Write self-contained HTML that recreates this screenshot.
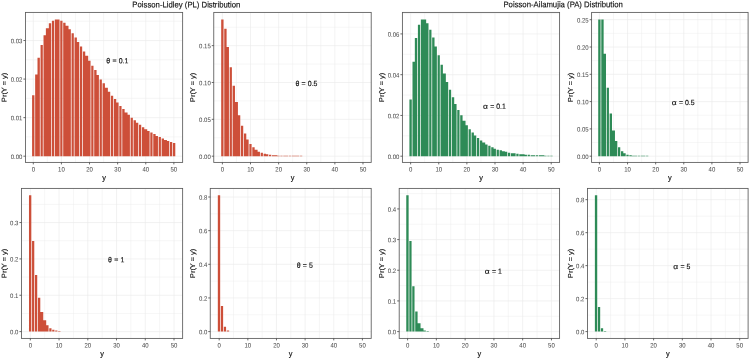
<!DOCTYPE html>
<html lang="en"><head><meta charset="utf-8"><title>Poisson-Lidley and Poisson-Ailamujia Distributions</title>
<style>html,body{margin:0;padding:0;background:#fff;}body{width:750px;height:359px;overflow:hidden;}svg{display:block;filter:blur(0.4px);}</style>
</head><body>
<svg width="750" height="359" viewBox="0 0 750 359" font-family="'Liberation Sans', Arial, sans-serif">
<rect width="750" height="359" fill="#fff"/>
<text transform="translate(186.30 7.45) rotate(0.1) scale(1 1.08)" font-size="7.75" text-anchor="middle" fill="#111" stroke="#111" stroke-width="0.14">Poisson-Lidley (PL) Distribution</text>
<text transform="translate(563.10 7.25) rotate(0.1) scale(1 1.08)" font-size="7.75" text-anchor="middle" fill="#111" stroke="#111" stroke-width="0.14">Poisson-Ailamujia (PA) Distribution</text>
<g>
<line x1="25.42" x2="182.64" y1="136.92" y2="136.92" stroke="#ebebeb" stroke-width="0.45"/>
<line x1="25.42" x2="182.64" y1="98.36" y2="98.36" stroke="#ebebeb" stroke-width="0.45"/>
<line x1="25.42" x2="182.64" y1="59.80" y2="59.80" stroke="#ebebeb" stroke-width="0.45"/>
<line x1="25.42" x2="182.64" y1="21.24" y2="21.24" stroke="#ebebeb" stroke-width="0.45"/>
<line y1="12.40" y2="162.40" x1="47.36" x2="47.36" stroke="#ebebeb" stroke-width="0.45"/>
<line y1="12.40" y2="162.40" x1="75.47" x2="75.47" stroke="#ebebeb" stroke-width="0.45"/>
<line y1="12.40" y2="162.40" x1="103.58" x2="103.58" stroke="#ebebeb" stroke-width="0.45"/>
<line y1="12.40" y2="162.40" x1="131.70" x2="131.70" stroke="#ebebeb" stroke-width="0.45"/>
<line y1="12.40" y2="162.40" x1="159.81" x2="159.81" stroke="#ebebeb" stroke-width="0.45"/>
<line x1="25.42" x2="182.64" y1="156.20" y2="156.20" stroke="#ebebeb" stroke-width="0.65"/>
<line x1="25.42" x2="182.64" y1="117.64" y2="117.64" stroke="#ebebeb" stroke-width="0.65"/>
<line x1="25.42" x2="182.64" y1="79.08" y2="79.08" stroke="#ebebeb" stroke-width="0.65"/>
<line x1="25.42" x2="182.64" y1="40.52" y2="40.52" stroke="#ebebeb" stroke-width="0.65"/>
<line y1="12.40" y2="162.40" x1="33.30" x2="33.30" stroke="#ebebeb" stroke-width="0.65"/>
<line y1="12.40" y2="162.40" x1="61.41" x2="61.41" stroke="#ebebeb" stroke-width="0.65"/>
<line y1="12.40" y2="162.40" x1="89.53" x2="89.53" stroke="#ebebeb" stroke-width="0.65"/>
<line y1="12.40" y2="162.40" x1="117.64" x2="117.64" stroke="#ebebeb" stroke-width="0.65"/>
<line y1="12.40" y2="162.40" x1="145.76" x2="145.76" stroke="#ebebeb" stroke-width="0.65"/>
<line y1="12.40" y2="162.40" x1="173.87" x2="173.87" stroke="#ebebeb" stroke-width="0.65"/>
<path d="M32.09 156.20V95.18H34.44V156.20ZM35.15 156.20V74.51H37.50V156.20ZM37.50 156.20V57.77H39.85V156.20ZM40.56 156.20V44.98H42.80V156.20ZM43.52 156.20V35.14H45.87V156.20ZM45.87 156.20V28.25H48.82V156.20ZM48.82 156.20V23.33H51.17V156.20ZM51.88 156.20V20.87H54.12V156.20ZM54.83 156.20V19.39H57.19V156.20ZM57.19 156.20V19.39H59.54V156.20ZM60.25 156.20V20.87H62.49V156.20ZM63.20 156.20V22.83H65.55V156.20ZM65.55 156.20V25.79H68.50V156.20ZM68.50 156.20V29.23H70.85V156.20ZM71.57 156.20V33.17H73.81V156.20ZM74.52 156.20V37.60H76.87V156.20ZM76.87 156.20V42.03H79.22V156.20ZM79.93 156.20V46.46H82.17V156.20ZM82.89 156.20V51.38H85.24V156.20ZM85.24 156.20V55.81H88.19V156.20ZM88.19 156.20V60.73H90.54V156.20ZM91.25 156.20V65.65H93.49V156.20ZM94.20 156.20V70.08H96.56V156.20ZM96.56 156.20V75.00H98.91V156.20ZM99.62 156.20V79.43H101.86V156.20ZM102.57 156.20V83.37H104.92V156.20ZM104.92 156.20V87.79H107.87V156.20ZM107.87 156.20V91.73H110.22V156.20ZM110.94 156.20V95.67H113.18V156.20ZM113.89 156.20V99.11H116.24V156.20ZM116.24 156.20V102.56H118.59V156.20ZM119.30 156.20V106.00H121.54V156.20ZM122.26 156.20V108.96H124.61V156.20ZM124.61 156.20V112.40H127.56V156.20ZM127.56 156.20V114.86H129.91V156.20ZM130.62 156.20V117.81H132.86V156.20ZM133.57 156.20V120.27H135.93V156.20ZM135.93 156.20V122.74H138.28V156.20ZM138.99 156.20V124.70H141.23V156.20ZM141.94 156.20V127.16H144.29V156.20ZM144.29 156.20V129.13H147.24V156.20ZM147.24 156.20V131.10H149.59V156.20ZM150.31 156.20V132.58H152.55V156.20ZM153.26 156.20V134.05H155.61V156.20ZM155.61 156.20V136.02H157.96V156.20ZM158.67 156.20V137.01H160.91V156.20ZM161.63 156.20V138.48H163.98V156.20ZM163.98 156.20V139.96H166.93V156.20ZM166.93 156.20V140.94H169.28V156.20ZM169.99 156.20V141.93H172.23V156.20ZM172.94 156.20V142.91H175.30V156.20Z" fill="#CD4F39"/>
<rect x="25.42" y="12.40" width="157.22" height="150.00" fill="none" stroke="#5a5a5a" stroke-width="0.85"/>
<line x1="23.42" x2="25.42" y1="156.20" y2="156.20" stroke="#444" stroke-width="0.8"/>
<text transform="translate(22.42 158.92) rotate(0.1) scale(1 1.08)" font-size="6.0" text-anchor="end" fill="#4d4d4d" stroke="#4d4d4d" stroke-width="0.03">0.00</text>
<line x1="23.42" x2="25.42" y1="117.64" y2="117.64" stroke="#444" stroke-width="0.8"/>
<text transform="translate(22.42 120.36) rotate(0.1) scale(1 1.08)" font-size="6.0" text-anchor="end" fill="#4d4d4d" stroke="#4d4d4d" stroke-width="0.03">0.01</text>
<line x1="23.42" x2="25.42" y1="79.08" y2="79.08" stroke="#444" stroke-width="0.8"/>
<text transform="translate(22.42 81.80) rotate(0.1) scale(1 1.08)" font-size="6.0" text-anchor="end" fill="#4d4d4d" stroke="#4d4d4d" stroke-width="0.03">0.02</text>
<line x1="23.42" x2="25.42" y1="40.52" y2="40.52" stroke="#444" stroke-width="0.8"/>
<text transform="translate(22.42 43.24) rotate(0.1) scale(1 1.08)" font-size="6.0" text-anchor="end" fill="#4d4d4d" stroke="#4d4d4d" stroke-width="0.03">0.03</text>
<line y1="162.40" y2="164.40" x1="33.30" x2="33.30" stroke="#444" stroke-width="0.8"/>
<text transform="translate(33.30 171.42) rotate(0.1) scale(1 1.08)" font-size="6.0" text-anchor="middle" fill="#4d4d4d" stroke="#4d4d4d" stroke-width="0.03">0</text>
<line y1="162.40" y2="164.40" x1="61.41" x2="61.41" stroke="#444" stroke-width="0.8"/>
<text transform="translate(61.41 171.42) rotate(0.1) scale(1 1.08)" font-size="6.0" text-anchor="middle" fill="#4d4d4d" stroke="#4d4d4d" stroke-width="0.03">10</text>
<line y1="162.40" y2="164.40" x1="89.53" x2="89.53" stroke="#444" stroke-width="0.8"/>
<text transform="translate(89.53 171.42) rotate(0.1) scale(1 1.08)" font-size="6.0" text-anchor="middle" fill="#4d4d4d" stroke="#4d4d4d" stroke-width="0.03">20</text>
<line y1="162.40" y2="164.40" x1="117.64" x2="117.64" stroke="#444" stroke-width="0.8"/>
<text transform="translate(117.64 171.42) rotate(0.1) scale(1 1.08)" font-size="6.0" text-anchor="middle" fill="#4d4d4d" stroke="#4d4d4d" stroke-width="0.03">30</text>
<line y1="162.40" y2="164.40" x1="145.76" x2="145.76" stroke="#444" stroke-width="0.8"/>
<text transform="translate(145.76 171.42) rotate(0.1) scale(1 1.08)" font-size="6.0" text-anchor="middle" fill="#4d4d4d" stroke="#4d4d4d" stroke-width="0.03">40</text>
<line y1="162.40" y2="164.40" x1="173.87" x2="173.87" stroke="#444" stroke-width="0.8"/>
<text transform="translate(173.87 171.42) rotate(0.1) scale(1 1.08)" font-size="6.0" text-anchor="middle" fill="#4d4d4d" stroke="#4d4d4d" stroke-width="0.03">50</text>
<text transform="translate(104.03 180.30) rotate(0.1) scale(1 1.08)" font-size="7.4" text-anchor="middle" fill="#111" stroke="#111" stroke-width="0.14">y</text>
<text transform="translate(6.60 87.40) rotate(-89.9) scale(1 0.93)" font-size="7.4" text-anchor="middle" fill="#111" stroke="#111" stroke-width="0.14">Pr(Y = y)</text>
<text word-spacing="0.3" transform="translate(117.34 63.24) rotate(0.1) scale(1 1.06)" font-size="6.95" text-anchor="middle" fill="#111" stroke="#111" stroke-width="0.14">θ = 0.1</text>
</g>
<g>
<line x1="213.76" x2="371.20" y1="137.77" y2="137.77" stroke="#ebebeb" stroke-width="0.45"/>
<line x1="213.76" x2="371.20" y1="100.92" y2="100.92" stroke="#ebebeb" stroke-width="0.45"/>
<line x1="213.76" x2="371.20" y1="64.06" y2="64.06" stroke="#ebebeb" stroke-width="0.45"/>
<line x1="213.76" x2="371.20" y1="27.21" y2="27.21" stroke="#ebebeb" stroke-width="0.45"/>
<line y1="12.40" y2="162.40" x1="236.46" x2="236.46" stroke="#ebebeb" stroke-width="0.45"/>
<line y1="12.40" y2="162.40" x1="264.57" x2="264.57" stroke="#ebebeb" stroke-width="0.45"/>
<line y1="12.40" y2="162.40" x1="292.69" x2="292.69" stroke="#ebebeb" stroke-width="0.45"/>
<line y1="12.40" y2="162.40" x1="320.80" x2="320.80" stroke="#ebebeb" stroke-width="0.45"/>
<line y1="12.40" y2="162.40" x1="348.91" x2="348.91" stroke="#ebebeb" stroke-width="0.45"/>
<line x1="213.76" x2="371.20" y1="156.20" y2="156.20" stroke="#ebebeb" stroke-width="0.65"/>
<line x1="213.76" x2="371.20" y1="119.34" y2="119.34" stroke="#ebebeb" stroke-width="0.65"/>
<line x1="213.76" x2="371.20" y1="82.49" y2="82.49" stroke="#ebebeb" stroke-width="0.65"/>
<line x1="213.76" x2="371.20" y1="45.63" y2="45.63" stroke="#ebebeb" stroke-width="0.65"/>
<line y1="12.40" y2="162.40" x1="222.40" x2="222.40" stroke="#ebebeb" stroke-width="0.65"/>
<line y1="12.40" y2="162.40" x1="250.51" x2="250.51" stroke="#ebebeb" stroke-width="0.65"/>
<line y1="12.40" y2="162.40" x1="278.63" x2="278.63" stroke="#ebebeb" stroke-width="0.65"/>
<line y1="12.40" y2="162.40" x1="306.74" x2="306.74" stroke="#ebebeb" stroke-width="0.65"/>
<line y1="12.40" y2="162.40" x1="334.86" x2="334.86" stroke="#ebebeb" stroke-width="0.65"/>
<line y1="12.40" y2="162.40" x1="362.97" x2="362.97" stroke="#ebebeb" stroke-width="0.65"/>
<path d="M221.19 156.20V19.39H223.54V156.20ZM224.25 156.20V28.74H226.60V156.20ZM226.60 156.20V46.95H228.95V156.20ZM229.66 156.20V67.13H231.90V156.20ZM232.61 156.20V85.83H234.97V156.20ZM234.97 156.20V102.07H237.92V156.20ZM237.92 156.20V115.35H240.27V156.20ZM240.98 156.20V125.69H243.22V156.20ZM243.93 156.20V133.56H246.28V156.20ZM246.28 156.20V139.47H248.64V156.20ZM249.35 156.20V143.90H251.59V156.20ZM252.30 156.20V147.34H254.65V156.20ZM254.65 156.20V149.80H257.60V156.20ZM257.60 156.20V151.77H259.95V156.20ZM260.67 156.20V152.76H262.91V156.20ZM263.62 156.20V153.74H265.97V156.20ZM265.97 156.20V154.23H268.32V156.20ZM269.03 156.20V154.72H271.27V156.20ZM271.99 156.20V155.22H274.34V156.20ZM274.34 156.20V155.22H277.29V156.20ZM277.29 156.20V155.71H279.64V156.20ZM280.35 156.20V155.71H282.59V156.20ZM283.30 156.20V155.71H285.65V156.20ZM285.65 156.20V155.71H288.01V156.20ZM288.72 156.20V155.71H290.96V156.20ZM291.67 156.20V155.71H294.02V156.20ZM294.02 156.20V155.71H296.97V156.20ZM296.97 156.20V155.71H299.32V156.20ZM300.04 156.20V155.71H302.28V156.20Z" fill="#CD4F39"/>
<rect x="213.76" y="12.40" width="157.44" height="150.00" fill="none" stroke="#5a5a5a" stroke-width="0.85"/>
<line x1="211.76" x2="213.76" y1="156.20" y2="156.20" stroke="#444" stroke-width="0.8"/>
<text transform="translate(210.76 158.92) rotate(0.1) scale(1 1.08)" font-size="6.0" text-anchor="end" fill="#4d4d4d" stroke="#4d4d4d" stroke-width="0.03">0.00</text>
<line x1="211.76" x2="213.76" y1="119.34" y2="119.34" stroke="#444" stroke-width="0.8"/>
<text transform="translate(210.76 122.06) rotate(0.1) scale(1 1.08)" font-size="6.0" text-anchor="end" fill="#4d4d4d" stroke="#4d4d4d" stroke-width="0.03">0.05</text>
<line x1="211.76" x2="213.76" y1="82.49" y2="82.49" stroke="#444" stroke-width="0.8"/>
<text transform="translate(210.76 85.21) rotate(0.1) scale(1 1.08)" font-size="6.0" text-anchor="end" fill="#4d4d4d" stroke="#4d4d4d" stroke-width="0.03">0.10</text>
<line x1="211.76" x2="213.76" y1="45.63" y2="45.63" stroke="#444" stroke-width="0.8"/>
<text transform="translate(210.76 48.35) rotate(0.1) scale(1 1.08)" font-size="6.0" text-anchor="end" fill="#4d4d4d" stroke="#4d4d4d" stroke-width="0.03">0.15</text>
<line y1="162.40" y2="164.40" x1="222.40" x2="222.40" stroke="#444" stroke-width="0.8"/>
<text transform="translate(222.40 171.42) rotate(0.1) scale(1 1.08)" font-size="6.0" text-anchor="middle" fill="#4d4d4d" stroke="#4d4d4d" stroke-width="0.03">0</text>
<line y1="162.40" y2="164.40" x1="250.51" x2="250.51" stroke="#444" stroke-width="0.8"/>
<text transform="translate(250.51 171.42) rotate(0.1) scale(1 1.08)" font-size="6.0" text-anchor="middle" fill="#4d4d4d" stroke="#4d4d4d" stroke-width="0.03">10</text>
<line y1="162.40" y2="164.40" x1="278.63" x2="278.63" stroke="#444" stroke-width="0.8"/>
<text transform="translate(278.63 171.42) rotate(0.1) scale(1 1.08)" font-size="6.0" text-anchor="middle" fill="#4d4d4d" stroke="#4d4d4d" stroke-width="0.03">20</text>
<line y1="162.40" y2="164.40" x1="306.74" x2="306.74" stroke="#444" stroke-width="0.8"/>
<text transform="translate(306.74 171.42) rotate(0.1) scale(1 1.08)" font-size="6.0" text-anchor="middle" fill="#4d4d4d" stroke="#4d4d4d" stroke-width="0.03">30</text>
<line y1="162.40" y2="164.40" x1="334.86" x2="334.86" stroke="#444" stroke-width="0.8"/>
<text transform="translate(334.86 171.42) rotate(0.1) scale(1 1.08)" font-size="6.0" text-anchor="middle" fill="#4d4d4d" stroke="#4d4d4d" stroke-width="0.03">40</text>
<line y1="162.40" y2="164.40" x1="362.97" x2="362.97" stroke="#444" stroke-width="0.8"/>
<text transform="translate(362.97 171.42) rotate(0.1) scale(1 1.08)" font-size="6.0" text-anchor="middle" fill="#4d4d4d" stroke="#4d4d4d" stroke-width="0.03">50</text>
<text transform="translate(292.48 180.30) rotate(0.1) scale(1 1.08)" font-size="7.4" text-anchor="middle" fill="#111" stroke="#111" stroke-width="0.14">y</text>
<text transform="translate(195.10 87.40) rotate(-89.9) scale(1 0.93)" font-size="7.4" text-anchor="middle" fill="#111" stroke="#111" stroke-width="0.14">Pr(Y = y)</text>
<text word-spacing="0.3" transform="translate(306.44 85.93) rotate(0.1) scale(1 1.06)" font-size="6.95" text-anchor="middle" fill="#111" stroke="#111" stroke-width="0.14">θ = 0.5</text>
</g>
<g>
<line x1="402.40" x2="559.60" y1="135.82" y2="135.82" stroke="#ebebeb" stroke-width="0.45"/>
<line x1="402.40" x2="559.60" y1="95.06" y2="95.06" stroke="#ebebeb" stroke-width="0.45"/>
<line x1="402.40" x2="559.60" y1="54.30" y2="54.30" stroke="#ebebeb" stroke-width="0.45"/>
<line x1="402.40" x2="559.60" y1="13.54" y2="13.54" stroke="#ebebeb" stroke-width="0.45"/>
<line y1="12.40" y2="162.40" x1="424.70" x2="424.70" stroke="#ebebeb" stroke-width="0.45"/>
<line y1="12.40" y2="162.40" x1="452.81" x2="452.81" stroke="#ebebeb" stroke-width="0.45"/>
<line y1="12.40" y2="162.40" x1="480.93" x2="480.93" stroke="#ebebeb" stroke-width="0.45"/>
<line y1="12.40" y2="162.40" x1="509.04" x2="509.04" stroke="#ebebeb" stroke-width="0.45"/>
<line y1="12.40" y2="162.40" x1="537.15" x2="537.15" stroke="#ebebeb" stroke-width="0.45"/>
<line x1="402.40" x2="559.60" y1="156.20" y2="156.20" stroke="#ebebeb" stroke-width="0.65"/>
<line x1="402.40" x2="559.60" y1="115.44" y2="115.44" stroke="#ebebeb" stroke-width="0.65"/>
<line x1="402.40" x2="559.60" y1="74.68" y2="74.68" stroke="#ebebeb" stroke-width="0.65"/>
<line x1="402.40" x2="559.60" y1="33.92" y2="33.92" stroke="#ebebeb" stroke-width="0.65"/>
<line y1="12.40" y2="162.40" x1="410.64" x2="410.64" stroke="#ebebeb" stroke-width="0.65"/>
<line y1="12.40" y2="162.40" x1="438.75" x2="438.75" stroke="#ebebeb" stroke-width="0.65"/>
<line y1="12.40" y2="162.40" x1="466.87" x2="466.87" stroke="#ebebeb" stroke-width="0.65"/>
<line y1="12.40" y2="162.40" x1="494.98" x2="494.98" stroke="#ebebeb" stroke-width="0.65"/>
<line y1="12.40" y2="162.40" x1="523.10" x2="523.10" stroke="#ebebeb" stroke-width="0.65"/>
<line y1="12.40" y2="162.40" x1="551.21" x2="551.21" stroke="#ebebeb" stroke-width="0.65"/>
<path d="M409.42 156.20V99.61H411.77V156.20ZM412.49 156.20V61.71H414.84V156.20ZM414.84 156.20V38.09H417.19V156.20ZM417.90 156.20V24.80H420.14V156.20ZM420.85 156.20V19.39H423.20V156.20ZM423.20 156.20V19.39H426.16V156.20ZM426.16 156.20V23.33H428.51V156.20ZM429.22 156.20V29.72H431.46V156.20ZM432.17 156.20V37.60H434.52V156.20ZM434.52 156.20V46.46H436.87V156.20ZM437.59 156.20V55.31H439.83V156.20ZM440.54 156.20V64.66H442.89V156.20ZM442.89 156.20V73.52H445.84V156.20ZM445.84 156.20V81.89H448.19V156.20ZM448.90 156.20V89.76H451.14V156.20ZM451.86 156.20V97.14H454.21V156.20ZM454.21 156.20V104.03H456.56V156.20ZM457.27 156.20V109.94H459.51V156.20ZM460.22 156.20V115.35H462.57V156.20ZM462.57 156.20V120.77H465.53V156.20ZM465.53 156.20V125.20H467.88V156.20ZM468.59 156.20V129.13H470.83V156.20ZM471.54 156.20V132.58H473.89V156.20ZM473.89 156.20V135.53H476.24V156.20ZM476.96 156.20V137.99H479.20V156.20ZM479.91 156.20V140.45H482.26V156.20ZM482.26 156.20V142.42H485.21V156.20ZM485.21 156.20V144.39H487.56V156.20ZM488.27 156.20V145.87H490.51V156.20ZM491.23 156.20V147.34H493.58V156.20ZM493.58 156.20V148.82H495.93V156.20ZM496.64 156.20V149.80H498.88V156.20ZM499.59 156.20V150.29H501.94V156.20ZM501.94 156.20V151.28H504.90V156.20ZM504.90 156.20V151.77H507.25V156.20ZM507.96 156.20V152.76H510.20V156.20ZM510.91 156.20V153.25H513.26V156.20ZM513.26 156.20V153.25H515.61V156.20ZM516.33 156.20V153.74H518.57V156.20ZM519.28 156.20V154.23H521.63V156.20ZM521.63 156.20V154.23H524.58V156.20ZM524.58 156.20V154.72H526.93V156.20ZM527.64 156.20V154.72H529.89V156.20ZM530.60 156.20V155.22H532.95V156.20ZM532.95 156.20V155.22H535.30V156.20ZM536.01 156.20V155.22H538.25V156.20ZM538.96 156.20V155.22H541.31V156.20ZM541.31 156.20V155.22H544.27V156.20ZM544.27 156.20V155.71H546.62V156.20ZM547.33 156.20V155.71H549.57V156.20ZM550.28 156.20V155.71H552.63V156.20Z" fill="#2E8B57"/>
<rect x="402.40" y="12.40" width="157.20" height="150.00" fill="none" stroke="#5a5a5a" stroke-width="0.85"/>
<line x1="400.40" x2="402.40" y1="156.20" y2="156.20" stroke="#444" stroke-width="0.8"/>
<text transform="translate(399.40 158.92) rotate(0.1) scale(1 1.08)" font-size="6.0" text-anchor="end" fill="#4d4d4d" stroke="#4d4d4d" stroke-width="0.03">0.00</text>
<line x1="400.40" x2="402.40" y1="115.44" y2="115.44" stroke="#444" stroke-width="0.8"/>
<text transform="translate(399.40 118.16) rotate(0.1) scale(1 1.08)" font-size="6.0" text-anchor="end" fill="#4d4d4d" stroke="#4d4d4d" stroke-width="0.03">0.02</text>
<line x1="400.40" x2="402.40" y1="74.68" y2="74.68" stroke="#444" stroke-width="0.8"/>
<text transform="translate(399.40 77.40) rotate(0.1) scale(1 1.08)" font-size="6.0" text-anchor="end" fill="#4d4d4d" stroke="#4d4d4d" stroke-width="0.03">0.04</text>
<line x1="400.40" x2="402.40" y1="33.92" y2="33.92" stroke="#444" stroke-width="0.8"/>
<text transform="translate(399.40 36.64) rotate(0.1) scale(1 1.08)" font-size="6.0" text-anchor="end" fill="#4d4d4d" stroke="#4d4d4d" stroke-width="0.03">0.06</text>
<line y1="162.40" y2="164.40" x1="410.64" x2="410.64" stroke="#444" stroke-width="0.8"/>
<text transform="translate(410.64 171.42) rotate(0.1) scale(1 1.08)" font-size="6.0" text-anchor="middle" fill="#4d4d4d" stroke="#4d4d4d" stroke-width="0.03">0</text>
<line y1="162.40" y2="164.40" x1="438.75" x2="438.75" stroke="#444" stroke-width="0.8"/>
<text transform="translate(438.75 171.42) rotate(0.1) scale(1 1.08)" font-size="6.0" text-anchor="middle" fill="#4d4d4d" stroke="#4d4d4d" stroke-width="0.03">10</text>
<line y1="162.40" y2="164.40" x1="466.87" x2="466.87" stroke="#444" stroke-width="0.8"/>
<text transform="translate(466.87 171.42) rotate(0.1) scale(1 1.08)" font-size="6.0" text-anchor="middle" fill="#4d4d4d" stroke="#4d4d4d" stroke-width="0.03">20</text>
<line y1="162.40" y2="164.40" x1="494.98" x2="494.98" stroke="#444" stroke-width="0.8"/>
<text transform="translate(494.98 171.42) rotate(0.1) scale(1 1.08)" font-size="6.0" text-anchor="middle" fill="#4d4d4d" stroke="#4d4d4d" stroke-width="0.03">30</text>
<line y1="162.40" y2="164.40" x1="523.10" x2="523.10" stroke="#444" stroke-width="0.8"/>
<text transform="translate(523.10 171.42) rotate(0.1) scale(1 1.08)" font-size="6.0" text-anchor="middle" fill="#4d4d4d" stroke="#4d4d4d" stroke-width="0.03">40</text>
<line y1="162.40" y2="164.40" x1="551.21" x2="551.21" stroke="#444" stroke-width="0.8"/>
<text transform="translate(551.21 171.42) rotate(0.1) scale(1 1.08)" font-size="6.0" text-anchor="middle" fill="#4d4d4d" stroke="#4d4d4d" stroke-width="0.03">50</text>
<text transform="translate(481.00 180.30) rotate(0.1) scale(1 1.08)" font-size="7.4" text-anchor="middle" fill="#111" stroke="#111" stroke-width="0.14">y</text>
<text transform="translate(384.10 87.40) rotate(-89.9) scale(1 0.93)" font-size="7.4" text-anchor="middle" fill="#111" stroke="#111" stroke-width="0.14">Pr(Y = y)</text>
<text transform="translate(482.94 108.69) rotate(0.1) scale(1.22 1.04)" font-size="6.95" fill="#111" stroke="#111" stroke-width="0.12">α</text>
<text transform="translate(490.17 108.69) rotate(0.1) scale(1 1.06)" font-size="6.95" text-anchor="start" fill="#111" stroke="#111" stroke-width="0.14">= 0.1</text>
</g>
<g>
<line x1="591.60" x2="748.10" y1="142.55" y2="142.55" stroke="#ebebeb" stroke-width="0.45"/>
<line x1="591.60" x2="748.10" y1="115.25" y2="115.25" stroke="#ebebeb" stroke-width="0.45"/>
<line x1="591.60" x2="748.10" y1="87.95" y2="87.95" stroke="#ebebeb" stroke-width="0.45"/>
<line x1="591.60" x2="748.10" y1="60.65" y2="60.65" stroke="#ebebeb" stroke-width="0.45"/>
<line x1="591.60" x2="748.10" y1="33.35" y2="33.35" stroke="#ebebeb" stroke-width="0.45"/>
<line y1="12.40" y2="162.40" x1="613.50" x2="613.50" stroke="#ebebeb" stroke-width="0.45"/>
<line y1="12.40" y2="162.40" x1="641.61" x2="641.61" stroke="#ebebeb" stroke-width="0.45"/>
<line y1="12.40" y2="162.40" x1="669.73" x2="669.73" stroke="#ebebeb" stroke-width="0.45"/>
<line y1="12.40" y2="162.40" x1="697.84" x2="697.84" stroke="#ebebeb" stroke-width="0.45"/>
<line y1="12.40" y2="162.40" x1="725.95" x2="725.95" stroke="#ebebeb" stroke-width="0.45"/>
<line x1="591.60" x2="748.10" y1="156.20" y2="156.20" stroke="#ebebeb" stroke-width="0.65"/>
<line x1="591.60" x2="748.10" y1="128.90" y2="128.90" stroke="#ebebeb" stroke-width="0.65"/>
<line x1="591.60" x2="748.10" y1="101.60" y2="101.60" stroke="#ebebeb" stroke-width="0.65"/>
<line x1="591.60" x2="748.10" y1="74.30" y2="74.30" stroke="#ebebeb" stroke-width="0.65"/>
<line x1="591.60" x2="748.10" y1="47.00" y2="47.00" stroke="#ebebeb" stroke-width="0.65"/>
<line x1="591.60" x2="748.10" y1="19.70" y2="19.70" stroke="#ebebeb" stroke-width="0.65"/>
<line y1="12.40" y2="162.40" x1="599.44" x2="599.44" stroke="#ebebeb" stroke-width="0.65"/>
<line y1="12.40" y2="162.40" x1="627.55" x2="627.55" stroke="#ebebeb" stroke-width="0.65"/>
<line y1="12.40" y2="162.40" x1="655.67" x2="655.67" stroke="#ebebeb" stroke-width="0.65"/>
<line y1="12.40" y2="162.40" x1="683.78" x2="683.78" stroke="#ebebeb" stroke-width="0.65"/>
<line y1="12.40" y2="162.40" x1="711.90" x2="711.90" stroke="#ebebeb" stroke-width="0.65"/>
<line y1="12.40" y2="162.40" x1="740.01" x2="740.01" stroke="#ebebeb" stroke-width="0.65"/>
<path d="M598.22 156.20V19.39H600.57V156.20ZM601.29 156.20V19.39H603.64V156.20ZM603.64 156.20V53.84H605.99V156.20ZM606.70 156.20V87.79H608.94V156.20ZM609.65 156.20V113.39H612.00V156.20ZM612.00 156.20V130.61H614.96V156.20ZM614.96 156.20V140.94H617.31V156.20ZM618.02 156.20V147.34H620.26V156.20ZM620.97 156.20V151.28H623.32V156.20ZM623.32 156.20V153.25H625.67V156.20ZM626.38 156.20V154.72H628.63V156.20ZM629.34 156.20V155.22H631.69V156.20ZM631.69 156.20V155.71H634.64V156.20ZM634.64 156.20V155.71H636.99V156.20ZM637.70 156.20V155.71H639.94V156.20ZM640.66 156.20V155.71H643.01V156.20ZM643.01 156.20V155.71H645.36V156.20ZM646.07 156.20V155.71H648.31V156.20Z" fill="#2E8B57"/>
<rect x="591.60" y="12.40" width="156.50" height="150.00" fill="none" stroke="#5a5a5a" stroke-width="0.85"/>
<line x1="589.60" x2="591.60" y1="156.20" y2="156.20" stroke="#444" stroke-width="0.8"/>
<text transform="translate(588.60 158.92) rotate(0.1) scale(1 1.08)" font-size="6.0" text-anchor="end" fill="#4d4d4d" stroke="#4d4d4d" stroke-width="0.03">0.00</text>
<line x1="589.60" x2="591.60" y1="128.90" y2="128.90" stroke="#444" stroke-width="0.8"/>
<text transform="translate(588.60 131.62) rotate(0.1) scale(1 1.08)" font-size="6.0" text-anchor="end" fill="#4d4d4d" stroke="#4d4d4d" stroke-width="0.03">0.05</text>
<line x1="589.60" x2="591.60" y1="101.60" y2="101.60" stroke="#444" stroke-width="0.8"/>
<text transform="translate(588.60 104.32) rotate(0.1) scale(1 1.08)" font-size="6.0" text-anchor="end" fill="#4d4d4d" stroke="#4d4d4d" stroke-width="0.03">0.10</text>
<line x1="589.60" x2="591.60" y1="74.30" y2="74.30" stroke="#444" stroke-width="0.8"/>
<text transform="translate(588.60 77.02) rotate(0.1) scale(1 1.08)" font-size="6.0" text-anchor="end" fill="#4d4d4d" stroke="#4d4d4d" stroke-width="0.03">0.15</text>
<line x1="589.60" x2="591.60" y1="47.00" y2="47.00" stroke="#444" stroke-width="0.8"/>
<text transform="translate(588.60 49.72) rotate(0.1) scale(1 1.08)" font-size="6.0" text-anchor="end" fill="#4d4d4d" stroke="#4d4d4d" stroke-width="0.03">0.20</text>
<line x1="589.60" x2="591.60" y1="19.70" y2="19.70" stroke="#444" stroke-width="0.8"/>
<text transform="translate(588.60 22.42) rotate(0.1) scale(1 1.08)" font-size="6.0" text-anchor="end" fill="#4d4d4d" stroke="#4d4d4d" stroke-width="0.03">0.25</text>
<line y1="162.40" y2="164.40" x1="599.44" x2="599.44" stroke="#444" stroke-width="0.8"/>
<text transform="translate(599.44 171.42) rotate(0.1) scale(1 1.08)" font-size="6.0" text-anchor="middle" fill="#4d4d4d" stroke="#4d4d4d" stroke-width="0.03">0</text>
<line y1="162.40" y2="164.40" x1="627.55" x2="627.55" stroke="#444" stroke-width="0.8"/>
<text transform="translate(627.55 171.42) rotate(0.1) scale(1 1.08)" font-size="6.0" text-anchor="middle" fill="#4d4d4d" stroke="#4d4d4d" stroke-width="0.03">10</text>
<line y1="162.40" y2="164.40" x1="655.67" x2="655.67" stroke="#444" stroke-width="0.8"/>
<text transform="translate(655.67 171.42) rotate(0.1) scale(1 1.08)" font-size="6.0" text-anchor="middle" fill="#4d4d4d" stroke="#4d4d4d" stroke-width="0.03">20</text>
<line y1="162.40" y2="164.40" x1="683.78" x2="683.78" stroke="#444" stroke-width="0.8"/>
<text transform="translate(683.78 171.42) rotate(0.1) scale(1 1.08)" font-size="6.0" text-anchor="middle" fill="#4d4d4d" stroke="#4d4d4d" stroke-width="0.03">30</text>
<line y1="162.40" y2="164.40" x1="711.90" x2="711.90" stroke="#444" stroke-width="0.8"/>
<text transform="translate(711.90 171.42) rotate(0.1) scale(1 1.08)" font-size="6.0" text-anchor="middle" fill="#4d4d4d" stroke="#4d4d4d" stroke-width="0.03">40</text>
<line y1="162.40" y2="164.40" x1="740.01" x2="740.01" stroke="#444" stroke-width="0.8"/>
<text transform="translate(740.01 171.42) rotate(0.1) scale(1 1.08)" font-size="6.0" text-anchor="middle" fill="#4d4d4d" stroke="#4d4d4d" stroke-width="0.03">50</text>
<text transform="translate(669.85 180.30) rotate(0.1) scale(1 1.08)" font-size="7.4" text-anchor="middle" fill="#111" stroke="#111" stroke-width="0.14">y</text>
<text transform="translate(572.80 87.40) rotate(-89.9) scale(1 0.93)" font-size="7.4" text-anchor="middle" fill="#111" stroke="#111" stroke-width="0.14">Pr(Y = y)</text>
<text transform="translate(671.74 105.04) rotate(0.1) scale(1.22 1.04)" font-size="6.95" fill="#111" stroke="#111" stroke-width="0.12">α</text>
<text transform="translate(678.97 105.04) rotate(0.1) scale(1 1.06)" font-size="6.95" text-anchor="start" fill="#111" stroke="#111" stroke-width="0.14">= 0.5</text>
</g>
<g>
<line x1="21.42" x2="182.64" y1="313.43" y2="313.43" stroke="#ebebeb" stroke-width="0.45"/>
<line x1="21.42" x2="182.64" y1="277.08" y2="277.08" stroke="#ebebeb" stroke-width="0.45"/>
<line x1="21.42" x2="182.64" y1="240.73" y2="240.73" stroke="#ebebeb" stroke-width="0.45"/>
<line x1="21.42" x2="182.64" y1="204.39" y2="204.39" stroke="#ebebeb" stroke-width="0.45"/>
<line y1="188.40" y2="338.40" x1="44.70" x2="44.70" stroke="#ebebeb" stroke-width="0.45"/>
<line y1="188.40" y2="338.40" x1="73.43" x2="73.43" stroke="#ebebeb" stroke-width="0.45"/>
<line y1="188.40" y2="338.40" x1="102.17" x2="102.17" stroke="#ebebeb" stroke-width="0.45"/>
<line y1="188.40" y2="338.40" x1="130.90" x2="130.90" stroke="#ebebeb" stroke-width="0.45"/>
<line y1="188.40" y2="338.40" x1="159.63" x2="159.63" stroke="#ebebeb" stroke-width="0.45"/>
<line x1="21.42" x2="182.64" y1="331.60" y2="331.60" stroke="#ebebeb" stroke-width="0.65"/>
<line x1="21.42" x2="182.64" y1="295.25" y2="295.25" stroke="#ebebeb" stroke-width="0.65"/>
<line x1="21.42" x2="182.64" y1="258.91" y2="258.91" stroke="#ebebeb" stroke-width="0.65"/>
<line x1="21.42" x2="182.64" y1="222.56" y2="222.56" stroke="#ebebeb" stroke-width="0.65"/>
<line y1="188.40" y2="338.40" x1="30.33" x2="30.33" stroke="#ebebeb" stroke-width="0.65"/>
<line y1="188.40" y2="338.40" x1="59.06" x2="59.06" stroke="#ebebeb" stroke-width="0.65"/>
<line y1="188.40" y2="338.40" x1="87.80" x2="87.80" stroke="#ebebeb" stroke-width="0.65"/>
<line y1="188.40" y2="338.40" x1="116.53" x2="116.53" stroke="#ebebeb" stroke-width="0.65"/>
<line y1="188.40" y2="338.40" x1="145.27" x2="145.27" stroke="#ebebeb" stroke-width="0.65"/>
<line y1="188.40" y2="338.40" x1="174.00" x2="174.00" stroke="#ebebeb" stroke-width="0.65"/>
<path d="M28.97 331.60V195.28H31.32V331.60ZM32.04 331.60V241.05H34.28V331.60ZM34.99 331.60V275.01H37.23V331.60ZM37.94 331.60V297.64H40.29V331.60ZM40.29 331.60V311.91H43.25V331.60ZM43.25 331.60V320.28H46.20V331.60ZM46.20 331.60V325.20H48.55V331.60ZM49.26 331.60V328.16H51.50V331.60ZM52.21 331.60V329.63H54.45V331.60ZM55.17 331.60V330.62H57.41V331.60ZM58.12 331.60V331.11H60.47V331.60Z" fill="#CD4F39"/>
<rect x="21.42" y="188.40" width="161.22" height="150.00" fill="none" stroke="#5a5a5a" stroke-width="0.85"/>
<line x1="19.42" x2="21.42" y1="331.60" y2="331.60" stroke="#444" stroke-width="0.8"/>
<text transform="translate(18.42 334.32) rotate(0.1) scale(1 1.08)" font-size="6.0" text-anchor="end" fill="#4d4d4d" stroke="#4d4d4d" stroke-width="0.03">0.0</text>
<line x1="19.42" x2="21.42" y1="295.25" y2="295.25" stroke="#444" stroke-width="0.8"/>
<text transform="translate(18.42 297.97) rotate(0.1) scale(1 1.08)" font-size="6.0" text-anchor="end" fill="#4d4d4d" stroke="#4d4d4d" stroke-width="0.03">0.1</text>
<line x1="19.42" x2="21.42" y1="258.91" y2="258.91" stroke="#444" stroke-width="0.8"/>
<text transform="translate(18.42 261.63) rotate(0.1) scale(1 1.08)" font-size="6.0" text-anchor="end" fill="#4d4d4d" stroke="#4d4d4d" stroke-width="0.03">0.2</text>
<line x1="19.42" x2="21.42" y1="222.56" y2="222.56" stroke="#444" stroke-width="0.8"/>
<text transform="translate(18.42 225.28) rotate(0.1) scale(1 1.08)" font-size="6.0" text-anchor="end" fill="#4d4d4d" stroke="#4d4d4d" stroke-width="0.03">0.3</text>
<line y1="338.40" y2="340.40" x1="30.33" x2="30.33" stroke="#444" stroke-width="0.8"/>
<text transform="translate(30.33 347.42) rotate(0.1) scale(1 1.08)" font-size="6.0" text-anchor="middle" fill="#4d4d4d" stroke="#4d4d4d" stroke-width="0.03">0</text>
<line y1="338.40" y2="340.40" x1="59.06" x2="59.06" stroke="#444" stroke-width="0.8"/>
<text transform="translate(59.06 347.42) rotate(0.1) scale(1 1.08)" font-size="6.0" text-anchor="middle" fill="#4d4d4d" stroke="#4d4d4d" stroke-width="0.03">10</text>
<line y1="338.40" y2="340.40" x1="87.80" x2="87.80" stroke="#444" stroke-width="0.8"/>
<text transform="translate(87.80 347.42) rotate(0.1) scale(1 1.08)" font-size="6.0" text-anchor="middle" fill="#4d4d4d" stroke="#4d4d4d" stroke-width="0.03">20</text>
<line y1="338.40" y2="340.40" x1="116.53" x2="116.53" stroke="#444" stroke-width="0.8"/>
<text transform="translate(116.53 347.42) rotate(0.1) scale(1 1.08)" font-size="6.0" text-anchor="middle" fill="#4d4d4d" stroke="#4d4d4d" stroke-width="0.03">30</text>
<line y1="338.40" y2="340.40" x1="145.27" x2="145.27" stroke="#444" stroke-width="0.8"/>
<text transform="translate(145.27 347.42) rotate(0.1) scale(1 1.08)" font-size="6.0" text-anchor="middle" fill="#4d4d4d" stroke="#4d4d4d" stroke-width="0.03">40</text>
<line y1="338.40" y2="340.40" x1="174.00" x2="174.00" stroke="#444" stroke-width="0.8"/>
<text transform="translate(174.00 347.42) rotate(0.1) scale(1 1.08)" font-size="6.0" text-anchor="middle" fill="#4d4d4d" stroke="#4d4d4d" stroke-width="0.03">50</text>
<text transform="translate(102.03 356.30) rotate(0.1) scale(1 1.08)" font-size="7.4" text-anchor="middle" fill="#111" stroke="#111" stroke-width="0.14">y</text>
<text transform="translate(6.60 263.40) rotate(-89.9) scale(1 0.93)" font-size="7.4" text-anchor="middle" fill="#111" stroke="#111" stroke-width="0.14">Pr(Y = y)</text>
<text word-spacing="0.3" transform="translate(116.23 262.34) rotate(0.1) scale(1 1.06)" font-size="6.95" text-anchor="middle" fill="#111" stroke="#111" stroke-width="0.14">θ = 1</text>
</g>
<g>
<line x1="210.24" x2="371.20" y1="314.78" y2="314.78" stroke="#ebebeb" stroke-width="0.45"/>
<line x1="210.24" x2="371.20" y1="281.13" y2="281.13" stroke="#ebebeb" stroke-width="0.45"/>
<line x1="210.24" x2="371.20" y1="247.48" y2="247.48" stroke="#ebebeb" stroke-width="0.45"/>
<line x1="210.24" x2="371.20" y1="213.84" y2="213.84" stroke="#ebebeb" stroke-width="0.45"/>
<line y1="188.40" y2="338.40" x1="233.52" x2="233.52" stroke="#ebebeb" stroke-width="0.45"/>
<line y1="188.40" y2="338.40" x1="262.16" x2="262.16" stroke="#ebebeb" stroke-width="0.45"/>
<line y1="188.40" y2="338.40" x1="290.80" x2="290.80" stroke="#ebebeb" stroke-width="0.45"/>
<line y1="188.40" y2="338.40" x1="319.44" x2="319.44" stroke="#ebebeb" stroke-width="0.45"/>
<line y1="188.40" y2="338.40" x1="348.08" x2="348.08" stroke="#ebebeb" stroke-width="0.45"/>
<line x1="210.24" x2="371.20" y1="331.60" y2="331.60" stroke="#ebebeb" stroke-width="0.65"/>
<line x1="210.24" x2="371.20" y1="297.95" y2="297.95" stroke="#ebebeb" stroke-width="0.65"/>
<line x1="210.24" x2="371.20" y1="264.31" y2="264.31" stroke="#ebebeb" stroke-width="0.65"/>
<line x1="210.24" x2="371.20" y1="230.66" y2="230.66" stroke="#ebebeb" stroke-width="0.65"/>
<line x1="210.24" x2="371.20" y1="197.01" y2="197.01" stroke="#ebebeb" stroke-width="0.65"/>
<line y1="188.40" y2="338.40" x1="219.20" x2="219.20" stroke="#ebebeb" stroke-width="0.65"/>
<line y1="188.40" y2="338.40" x1="247.84" x2="247.84" stroke="#ebebeb" stroke-width="0.65"/>
<line y1="188.40" y2="338.40" x1="276.48" x2="276.48" stroke="#ebebeb" stroke-width="0.65"/>
<line y1="188.40" y2="338.40" x1="305.12" x2="305.12" stroke="#ebebeb" stroke-width="0.65"/>
<line y1="188.40" y2="338.40" x1="333.76" x2="333.76" stroke="#ebebeb" stroke-width="0.65"/>
<line y1="188.40" y2="338.40" x1="362.40" x2="362.40" stroke="#ebebeb" stroke-width="0.65"/>
<path d="M217.82 331.60V195.28H220.17V331.60ZM220.88 331.60V306.01H223.12V331.60ZM223.83 331.60V326.68H226.07V331.60ZM226.79 331.60V330.62H229.14V331.60Z" fill="#CD4F39"/>
<rect x="210.24" y="188.40" width="160.96" height="150.00" fill="none" stroke="#5a5a5a" stroke-width="0.85"/>
<line x1="208.24" x2="210.24" y1="331.60" y2="331.60" stroke="#444" stroke-width="0.8"/>
<text transform="translate(207.24 334.32) rotate(0.1) scale(1 1.08)" font-size="6.0" text-anchor="end" fill="#4d4d4d" stroke="#4d4d4d" stroke-width="0.03">0.0</text>
<line x1="208.24" x2="210.24" y1="297.95" y2="297.95" stroke="#444" stroke-width="0.8"/>
<text transform="translate(207.24 300.67) rotate(0.1) scale(1 1.08)" font-size="6.0" text-anchor="end" fill="#4d4d4d" stroke="#4d4d4d" stroke-width="0.03">0.2</text>
<line x1="208.24" x2="210.24" y1="264.31" y2="264.31" stroke="#444" stroke-width="0.8"/>
<text transform="translate(207.24 267.03) rotate(0.1) scale(1 1.08)" font-size="6.0" text-anchor="end" fill="#4d4d4d" stroke="#4d4d4d" stroke-width="0.03">0.4</text>
<line x1="208.24" x2="210.24" y1="230.66" y2="230.66" stroke="#444" stroke-width="0.8"/>
<text transform="translate(207.24 233.38) rotate(0.1) scale(1 1.08)" font-size="6.0" text-anchor="end" fill="#4d4d4d" stroke="#4d4d4d" stroke-width="0.03">0.6</text>
<line x1="208.24" x2="210.24" y1="197.01" y2="197.01" stroke="#444" stroke-width="0.8"/>
<text transform="translate(207.24 199.73) rotate(0.1) scale(1 1.08)" font-size="6.0" text-anchor="end" fill="#4d4d4d" stroke="#4d4d4d" stroke-width="0.03">0.8</text>
<line y1="338.40" y2="340.40" x1="219.20" x2="219.20" stroke="#444" stroke-width="0.8"/>
<text transform="translate(219.20 347.42) rotate(0.1) scale(1 1.08)" font-size="6.0" text-anchor="middle" fill="#4d4d4d" stroke="#4d4d4d" stroke-width="0.03">0</text>
<line y1="338.40" y2="340.40" x1="247.84" x2="247.84" stroke="#444" stroke-width="0.8"/>
<text transform="translate(247.84 347.42) rotate(0.1) scale(1 1.08)" font-size="6.0" text-anchor="middle" fill="#4d4d4d" stroke="#4d4d4d" stroke-width="0.03">10</text>
<line y1="338.40" y2="340.40" x1="276.48" x2="276.48" stroke="#444" stroke-width="0.8"/>
<text transform="translate(276.48 347.42) rotate(0.1) scale(1 1.08)" font-size="6.0" text-anchor="middle" fill="#4d4d4d" stroke="#4d4d4d" stroke-width="0.03">20</text>
<line y1="338.40" y2="340.40" x1="305.12" x2="305.12" stroke="#444" stroke-width="0.8"/>
<text transform="translate(305.12 347.42) rotate(0.1) scale(1 1.08)" font-size="6.0" text-anchor="middle" fill="#4d4d4d" stroke="#4d4d4d" stroke-width="0.03">30</text>
<line y1="338.40" y2="340.40" x1="333.76" x2="333.76" stroke="#444" stroke-width="0.8"/>
<text transform="translate(333.76 347.42) rotate(0.1) scale(1 1.08)" font-size="6.0" text-anchor="middle" fill="#4d4d4d" stroke="#4d4d4d" stroke-width="0.03">40</text>
<line y1="338.40" y2="340.40" x1="362.40" x2="362.40" stroke="#444" stroke-width="0.8"/>
<text transform="translate(362.40 347.42) rotate(0.1) scale(1 1.08)" font-size="6.0" text-anchor="middle" fill="#4d4d4d" stroke="#4d4d4d" stroke-width="0.03">50</text>
<text transform="translate(290.72 356.30) rotate(0.1) scale(1 1.08)" font-size="7.4" text-anchor="middle" fill="#111" stroke="#111" stroke-width="0.14">y</text>
<text transform="translate(195.10 263.40) rotate(-89.9) scale(1 0.93)" font-size="7.4" text-anchor="middle" fill="#111" stroke="#111" stroke-width="0.14">Pr(Y = y)</text>
<text word-spacing="0.3" transform="translate(304.82 267.74) rotate(0.1) scale(1 1.06)" font-size="6.95" text-anchor="middle" fill="#111" stroke="#111" stroke-width="0.14">θ = 5</text>
</g>
<g>
<line x1="399.20" x2="559.60" y1="316.27" y2="316.27" stroke="#ebebeb" stroke-width="0.45"/>
<line x1="399.20" x2="559.60" y1="285.60" y2="285.60" stroke="#ebebeb" stroke-width="0.45"/>
<line x1="399.20" x2="559.60" y1="254.93" y2="254.93" stroke="#ebebeb" stroke-width="0.45"/>
<line x1="399.20" x2="559.60" y1="224.26" y2="224.26" stroke="#ebebeb" stroke-width="0.45"/>
<line x1="399.20" x2="559.60" y1="193.60" y2="193.60" stroke="#ebebeb" stroke-width="0.45"/>
<line y1="188.40" y2="338.40" x1="421.98" x2="421.98" stroke="#ebebeb" stroke-width="0.45"/>
<line y1="188.40" y2="338.40" x1="450.75" x2="450.75" stroke="#ebebeb" stroke-width="0.45"/>
<line y1="188.40" y2="338.40" x1="479.52" x2="479.52" stroke="#ebebeb" stroke-width="0.45"/>
<line y1="188.40" y2="338.40" x1="508.29" x2="508.29" stroke="#ebebeb" stroke-width="0.45"/>
<line y1="188.40" y2="338.40" x1="537.06" x2="537.06" stroke="#ebebeb" stroke-width="0.45"/>
<line x1="399.20" x2="559.60" y1="331.60" y2="331.60" stroke="#ebebeb" stroke-width="0.65"/>
<line x1="399.20" x2="559.60" y1="300.93" y2="300.93" stroke="#ebebeb" stroke-width="0.65"/>
<line x1="399.20" x2="559.60" y1="270.26" y2="270.26" stroke="#ebebeb" stroke-width="0.65"/>
<line x1="399.20" x2="559.60" y1="239.60" y2="239.60" stroke="#ebebeb" stroke-width="0.65"/>
<line x1="399.20" x2="559.60" y1="208.93" y2="208.93" stroke="#ebebeb" stroke-width="0.65"/>
<line y1="188.40" y2="338.40" x1="407.60" x2="407.60" stroke="#ebebeb" stroke-width="0.65"/>
<line y1="188.40" y2="338.40" x1="436.37" x2="436.37" stroke="#ebebeb" stroke-width="0.65"/>
<line y1="188.40" y2="338.40" x1="465.14" x2="465.14" stroke="#ebebeb" stroke-width="0.65"/>
<line y1="188.40" y2="338.40" x1="493.90" x2="493.90" stroke="#ebebeb" stroke-width="0.65"/>
<line y1="188.40" y2="338.40" x1="522.67" x2="522.67" stroke="#ebebeb" stroke-width="0.65"/>
<line y1="188.40" y2="338.40" x1="551.44" x2="551.44" stroke="#ebebeb" stroke-width="0.65"/>
<path d="M406.26 331.60V195.28H408.62V331.60ZM409.33 331.60V241.05H411.57V331.60ZM412.28 331.60V286.32H414.52V331.60ZM415.23 331.60V311.42H417.58V331.60ZM417.58 331.60V323.23H420.54V331.60ZM420.54 331.60V328.16H423.49V331.60ZM423.49 331.60V330.62H425.84V331.60ZM426.55 331.60V331.11H428.79V331.60Z" fill="#2E8B57"/>
<rect x="399.20" y="188.40" width="160.40" height="150.00" fill="none" stroke="#5a5a5a" stroke-width="0.85"/>
<line x1="397.20" x2="399.20" y1="331.60" y2="331.60" stroke="#444" stroke-width="0.8"/>
<text transform="translate(396.20 334.32) rotate(0.1) scale(1 1.08)" font-size="6.0" text-anchor="end" fill="#4d4d4d" stroke="#4d4d4d" stroke-width="0.03">0.0</text>
<line x1="397.20" x2="399.20" y1="300.93" y2="300.93" stroke="#444" stroke-width="0.8"/>
<text transform="translate(396.20 303.65) rotate(0.1) scale(1 1.08)" font-size="6.0" text-anchor="end" fill="#4d4d4d" stroke="#4d4d4d" stroke-width="0.03">0.1</text>
<line x1="397.20" x2="399.20" y1="270.26" y2="270.26" stroke="#444" stroke-width="0.8"/>
<text transform="translate(396.20 272.98) rotate(0.1) scale(1 1.08)" font-size="6.0" text-anchor="end" fill="#4d4d4d" stroke="#4d4d4d" stroke-width="0.03">0.2</text>
<line x1="397.20" x2="399.20" y1="239.60" y2="239.60" stroke="#444" stroke-width="0.8"/>
<text transform="translate(396.20 242.32) rotate(0.1) scale(1 1.08)" font-size="6.0" text-anchor="end" fill="#4d4d4d" stroke="#4d4d4d" stroke-width="0.03">0.3</text>
<line x1="397.20" x2="399.20" y1="208.93" y2="208.93" stroke="#444" stroke-width="0.8"/>
<text transform="translate(396.20 211.65) rotate(0.1) scale(1 1.08)" font-size="6.0" text-anchor="end" fill="#4d4d4d" stroke="#4d4d4d" stroke-width="0.03">0.4</text>
<line y1="338.40" y2="340.40" x1="407.60" x2="407.60" stroke="#444" stroke-width="0.8"/>
<text transform="translate(407.60 347.42) rotate(0.1) scale(1 1.08)" font-size="6.0" text-anchor="middle" fill="#4d4d4d" stroke="#4d4d4d" stroke-width="0.03">0</text>
<line y1="338.40" y2="340.40" x1="436.37" x2="436.37" stroke="#444" stroke-width="0.8"/>
<text transform="translate(436.37 347.42) rotate(0.1) scale(1 1.08)" font-size="6.0" text-anchor="middle" fill="#4d4d4d" stroke="#4d4d4d" stroke-width="0.03">10</text>
<line y1="338.40" y2="340.40" x1="465.14" x2="465.14" stroke="#444" stroke-width="0.8"/>
<text transform="translate(465.14 347.42) rotate(0.1) scale(1 1.08)" font-size="6.0" text-anchor="middle" fill="#4d4d4d" stroke="#4d4d4d" stroke-width="0.03">20</text>
<line y1="338.40" y2="340.40" x1="493.90" x2="493.90" stroke="#444" stroke-width="0.8"/>
<text transform="translate(493.90 347.42) rotate(0.1) scale(1 1.08)" font-size="6.0" text-anchor="middle" fill="#4d4d4d" stroke="#4d4d4d" stroke-width="0.03">30</text>
<line y1="338.40" y2="340.40" x1="522.67" x2="522.67" stroke="#444" stroke-width="0.8"/>
<text transform="translate(522.67 347.42) rotate(0.1) scale(1 1.08)" font-size="6.0" text-anchor="middle" fill="#4d4d4d" stroke="#4d4d4d" stroke-width="0.03">40</text>
<line y1="338.40" y2="340.40" x1="551.44" x2="551.44" stroke="#444" stroke-width="0.8"/>
<text transform="translate(551.44 347.42) rotate(0.1) scale(1 1.08)" font-size="6.0" text-anchor="middle" fill="#4d4d4d" stroke="#4d4d4d" stroke-width="0.03">50</text>
<text transform="translate(479.40 356.30) rotate(0.1) scale(1 1.08)" font-size="7.4" text-anchor="middle" fill="#111" stroke="#111" stroke-width="0.14">y</text>
<text transform="translate(384.10 263.40) rotate(-89.9) scale(1 0.93)" font-size="7.4" text-anchor="middle" fill="#111" stroke="#111" stroke-width="0.14">Pr(Y = y)</text>
<text transform="translate(484.76 273.70) rotate(0.1) scale(1.22 1.04)" font-size="6.95" fill="#111" stroke="#111" stroke-width="0.12">α</text>
<text transform="translate(491.99 273.70) rotate(0.1) scale(1 1.06)" font-size="6.95" text-anchor="start" fill="#111" stroke="#111" stroke-width="0.14">= 1</text>
</g>
<g>
<line x1="587.44" x2="748.10" y1="315.11" y2="315.11" stroke="#ebebeb" stroke-width="0.45"/>
<line x1="587.44" x2="748.10" y1="282.12" y2="282.12" stroke="#ebebeb" stroke-width="0.45"/>
<line x1="587.44" x2="748.10" y1="249.14" y2="249.14" stroke="#ebebeb" stroke-width="0.45"/>
<line x1="587.44" x2="748.10" y1="216.15" y2="216.15" stroke="#ebebeb" stroke-width="0.45"/>
<line y1="188.40" y2="338.40" x1="610.59" x2="610.59" stroke="#ebebeb" stroke-width="0.45"/>
<line y1="188.40" y2="338.40" x1="639.28" x2="639.28" stroke="#ebebeb" stroke-width="0.45"/>
<line y1="188.40" y2="338.40" x1="667.97" x2="667.97" stroke="#ebebeb" stroke-width="0.45"/>
<line y1="188.40" y2="338.40" x1="696.66" x2="696.66" stroke="#ebebeb" stroke-width="0.45"/>
<line y1="188.40" y2="338.40" x1="725.35" x2="725.35" stroke="#ebebeb" stroke-width="0.45"/>
<line x1="587.44" x2="748.10" y1="331.60" y2="331.60" stroke="#ebebeb" stroke-width="0.65"/>
<line x1="587.44" x2="748.10" y1="298.62" y2="298.62" stroke="#ebebeb" stroke-width="0.65"/>
<line x1="587.44" x2="748.10" y1="265.63" y2="265.63" stroke="#ebebeb" stroke-width="0.65"/>
<line x1="587.44" x2="748.10" y1="232.65" y2="232.65" stroke="#ebebeb" stroke-width="0.65"/>
<line x1="587.44" x2="748.10" y1="199.66" y2="199.66" stroke="#ebebeb" stroke-width="0.65"/>
<line y1="188.40" y2="338.40" x1="596.24" x2="596.24" stroke="#ebebeb" stroke-width="0.65"/>
<line y1="188.40" y2="338.40" x1="624.93" x2="624.93" stroke="#ebebeb" stroke-width="0.65"/>
<line y1="188.40" y2="338.40" x1="653.62" x2="653.62" stroke="#ebebeb" stroke-width="0.65"/>
<line y1="188.40" y2="338.40" x1="682.32" x2="682.32" stroke="#ebebeb" stroke-width="0.65"/>
<line y1="188.40" y2="338.40" x1="711.01" x2="711.01" stroke="#ebebeb" stroke-width="0.65"/>
<line y1="188.40" y2="338.40" x1="739.70" x2="739.70" stroke="#ebebeb" stroke-width="0.65"/>
<path d="M594.88 331.60V195.28H597.23V331.60ZM597.94 331.60V306.99H600.18V331.60ZM600.89 331.60V328.16H603.14V331.60ZM603.85 331.60V331.11H606.20V331.60Z" fill="#2E8B57"/>
<rect x="587.44" y="188.40" width="160.66" height="150.00" fill="none" stroke="#5a5a5a" stroke-width="0.85"/>
<line x1="585.44" x2="587.44" y1="331.60" y2="331.60" stroke="#444" stroke-width="0.8"/>
<text transform="translate(584.44 334.32) rotate(0.1) scale(1 1.08)" font-size="6.0" text-anchor="end" fill="#4d4d4d" stroke="#4d4d4d" stroke-width="0.03">0.0</text>
<line x1="585.44" x2="587.44" y1="298.62" y2="298.62" stroke="#444" stroke-width="0.8"/>
<text transform="translate(584.44 301.34) rotate(0.1) scale(1 1.08)" font-size="6.0" text-anchor="end" fill="#4d4d4d" stroke="#4d4d4d" stroke-width="0.03">0.2</text>
<line x1="585.44" x2="587.44" y1="265.63" y2="265.63" stroke="#444" stroke-width="0.8"/>
<text transform="translate(584.44 268.35) rotate(0.1) scale(1 1.08)" font-size="6.0" text-anchor="end" fill="#4d4d4d" stroke="#4d4d4d" stroke-width="0.03">0.4</text>
<line x1="585.44" x2="587.44" y1="232.65" y2="232.65" stroke="#444" stroke-width="0.8"/>
<text transform="translate(584.44 235.37) rotate(0.1) scale(1 1.08)" font-size="6.0" text-anchor="end" fill="#4d4d4d" stroke="#4d4d4d" stroke-width="0.03">0.6</text>
<line x1="585.44" x2="587.44" y1="199.66" y2="199.66" stroke="#444" stroke-width="0.8"/>
<text transform="translate(584.44 202.38) rotate(0.1) scale(1 1.08)" font-size="6.0" text-anchor="end" fill="#4d4d4d" stroke="#4d4d4d" stroke-width="0.03">0.8</text>
<line y1="338.40" y2="340.40" x1="596.24" x2="596.24" stroke="#444" stroke-width="0.8"/>
<text transform="translate(596.24 347.42) rotate(0.1) scale(1 1.08)" font-size="6.0" text-anchor="middle" fill="#4d4d4d" stroke="#4d4d4d" stroke-width="0.03">0</text>
<line y1="338.40" y2="340.40" x1="624.93" x2="624.93" stroke="#444" stroke-width="0.8"/>
<text transform="translate(624.93 347.42) rotate(0.1) scale(1 1.08)" font-size="6.0" text-anchor="middle" fill="#4d4d4d" stroke="#4d4d4d" stroke-width="0.03">10</text>
<line y1="338.40" y2="340.40" x1="653.62" x2="653.62" stroke="#444" stroke-width="0.8"/>
<text transform="translate(653.62 347.42) rotate(0.1) scale(1 1.08)" font-size="6.0" text-anchor="middle" fill="#4d4d4d" stroke="#4d4d4d" stroke-width="0.03">20</text>
<line y1="338.40" y2="340.40" x1="682.32" x2="682.32" stroke="#444" stroke-width="0.8"/>
<text transform="translate(682.32 347.42) rotate(0.1) scale(1 1.08)" font-size="6.0" text-anchor="middle" fill="#4d4d4d" stroke="#4d4d4d" stroke-width="0.03">30</text>
<line y1="338.40" y2="340.40" x1="711.01" x2="711.01" stroke="#444" stroke-width="0.8"/>
<text transform="translate(711.01 347.42) rotate(0.1) scale(1 1.08)" font-size="6.0" text-anchor="middle" fill="#4d4d4d" stroke="#4d4d4d" stroke-width="0.03">40</text>
<line y1="338.40" y2="340.40" x1="739.70" x2="739.70" stroke="#444" stroke-width="0.8"/>
<text transform="translate(739.70 347.42) rotate(0.1) scale(1 1.08)" font-size="6.0" text-anchor="middle" fill="#4d4d4d" stroke="#4d4d4d" stroke-width="0.03">50</text>
<text transform="translate(667.77 356.30) rotate(0.1) scale(1 1.08)" font-size="7.4" text-anchor="middle" fill="#111" stroke="#111" stroke-width="0.14">y</text>
<text transform="translate(572.80 263.40) rotate(-89.9) scale(1 0.93)" font-size="7.4" text-anchor="middle" fill="#111" stroke="#111" stroke-width="0.14">Pr(Y = y)</text>
<text transform="translate(673.17 269.07) rotate(0.1) scale(1.22 1.04)" font-size="6.95" fill="#111" stroke="#111" stroke-width="0.12">α</text>
<text transform="translate(680.41 269.07) rotate(0.1) scale(1 1.06)" font-size="6.95" text-anchor="start" fill="#111" stroke="#111" stroke-width="0.14">= 5</text>
</g>
</svg>
</body></html>
